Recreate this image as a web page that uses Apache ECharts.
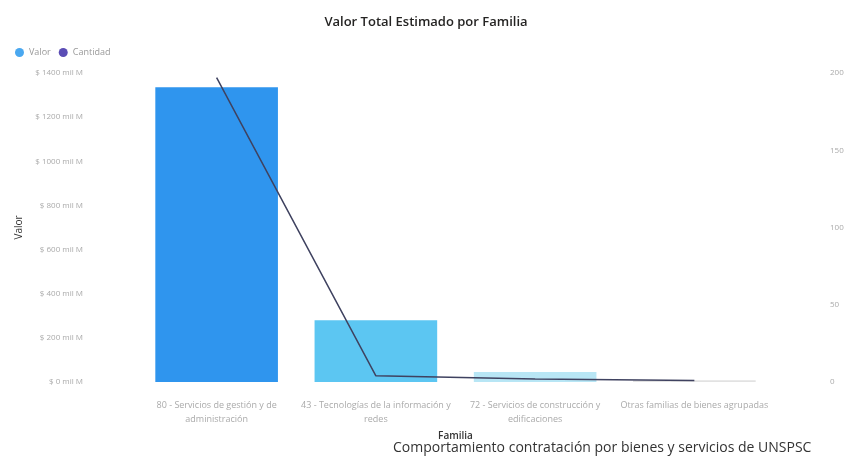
<!DOCTYPE html>
<html>
<head>
<meta charset="utf-8">
<script src="https://cdn.jsdelivr.net/npm/echarts@6/dist/echarts.min.js"></script>
<style>
html,body{margin:0;padding:0;background:#fff;}
#c{width:852px;height:459px;}
</style>
</head>
<body>
<div id="c"></div>
<script>
// ---- data ----
var categories = [
  "80 - Servicios de gestión y de\nadministración",
  "43 - Tecnologías de la información y\nredes",
  "72 - Servicios de construcción y\nedificaciones",
  "Otras familias de bienes agrupadas"
];
var valores = [1336, 280, 45, 8];          // miles de millones
var cantidades = [197, 4, 2, 1];
var leftTicks = [0, 200, 400, 600, 800, 1000, 1200, 1400];
var rightTicks = [0, 50, 100, 150, 200];

// ---- styles ----
var barColors = ['#2f95ee', '#5cc6f2', '#b8e6f5', '#e2e2e2'];

var chart = echarts.init(document.getElementById('c'));
chart.setOption({
  backgroundColor: '#fff',
  animation: false,
  title: {
    text: 'Valor Total Estimado por Familia',
    left: 'center', top: 11,
    textStyle: {fontFamily: 'Open Sans', fontSize: 13, fontWeight: 600, color: '#252423'}
  },
  legend: {
    left: 10, top: 43,
    itemWidth: 9, itemHeight: 9, itemGap: 8,
    icon: 'circle',
    textStyle: {fontFamily: 'Open Sans', fontSize: 9, color: '#999'},
    data: ['Valor', 'Cantidad']
  },
  graphic: [{
    type: 'text', left: 393, top: 441,
    style: {
      text: 'Comportamiento contratación por bienes y servicios de UNSPSC',
      font: '14px "Open Sans"', fill: '#333'
    }
  }],
  grid: {left: 137, right: 78, top: 73, bottom: 77},
  xAxis: {
    type: 'category',
    data: categories,
    name: 'Familia',
    nameLocation: 'middle',
    nameGap: 46,
    nameTextStyle: {fontFamily: 'Open Sans', fontSize: 10, fontWeight: 600, color: '#333'},
    axisLine: {show: false},
    axisTick: {show: false},
    axisLabel: {fontFamily: 'Open Sans', fontSize: 9, color: '#aaa', interval: 0, lineHeight: 14, margin: 16}
  },
  yAxis: [{
    type: 'value',
    min: leftTicks[0], max: leftTicks[leftTicks.length - 1], interval: 200,
    name: 'Valor', nameLocation: 'middle', nameGap: 112,
    nameTextStyle: {fontFamily: 'Open Sans', fontSize: 10, color: '#333'},
    axisLine: {show: false}, axisTick: {show: false},
    splitLine: {show: false},
    axisLabel: {
      fontFamily: 'Open Sans', fontSize: 8, color: '#aaa', margin: 54,
      formatter: function (v) { return '$ ' + v + ' mil M'; }
    }
  }, {
    type: 'value',
    min: rightTicks[0], max: rightTicks[rightTicks.length - 1], interval: 50,
    axisLine: {show: false}, axisTick: {show: false},
    splitLine: {show: false},
    axisLabel: {fontFamily: 'Open Sans', fontSize: 8, color: '#aaa', margin: 56}
  }],
  series: [{
    name: 'Valor',
    type: 'bar',
    barWidth: '77%',
    data: valores,
    itemStyle: {color: function (p) { return barColors[p.dataIndex]; }},
    color: '#4aa8f0'
  }, {
    name: 'Cantidad',
    type: 'line',
    yAxisIndex: 1,
    data: cantidades,
    showSymbol: false,
    symbol: 'circle',
    color: '#5b4db5',
    lineStyle: {color: '#3f4260', width: 1.5}
  }]
});
</script>
</body>
</html>
